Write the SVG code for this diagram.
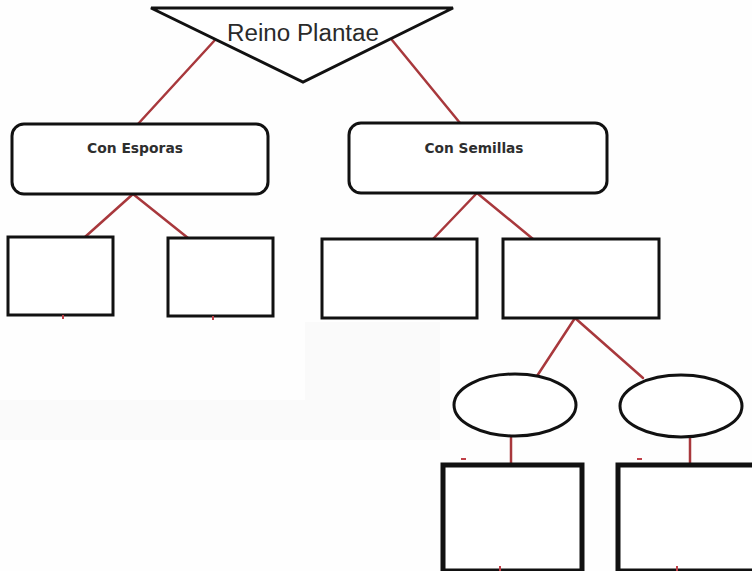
<svg xmlns="http://www.w3.org/2000/svg" width="752" height="571" viewBox="0 0 752 571">
<style>
.shape{fill:#ffffff;stroke:#111111;stroke-width:3}
.thick{fill:#ffffff;stroke:#111111;stroke-width:5}
.conn line{stroke:#a8383c;stroke-width:2.5;stroke-linecap:round}
.tick{stroke:#c04048;stroke-width:2}
.title{font-family:"Liberation Sans",Arial,sans-serif;font-size:23px;fill:#2a2a2a}
.lbl{font-family:"DejaVu Sans",Verdana,sans-serif;font-weight:bold;font-size:14px;fill:#2e2e2e}
</style>
<rect x="0" y="0" width="752" height="571" fill="#fefefe"/>
<path d="M305 322 H440 V440 H0 V400 H305 Z" fill="#fafafa"/>
<g class="conn" id="connectors">
<line x1="215" y1="40" x2="138" y2="124"/>
<line x1="392" y1="40" x2="460" y2="123"/>
<line x1="133" y1="194" x2="85" y2="237"/>
<line x1="133" y1="194" x2="188" y2="238"/>
<line x1="477" y1="193" x2="433" y2="239"/>
<line x1="477" y1="193" x2="533" y2="239"/>
<line x1="575" y1="318" x2="537" y2="376"/>
<line x1="575" y1="318" x2="643" y2="378"/>
<line x1="511" y1="436" x2="511" y2="464"/>
<line x1="690" y1="436" x2="690" y2="464"/>
</g>
<g id="reino-plantae">
<polygon class="shape" points="151,8 453,8 303,82"/>
<text class="title" x="303" y="41" text-anchor="middle" textLength="152" lengthAdjust="spacingAndGlyphs">Reino Plantae</text>
</g>
<g id="con-esporas">
<rect class="shape" x="12" y="124" width="256" height="70" rx="12"/>
<text class="lbl" x="135" y="153" text-anchor="middle" textLength="96" lengthAdjust="spacingAndGlyphs">Con Esporas</text>
</g>
<g id="con-semillas">
<rect class="shape" x="349" y="123" width="258" height="70" rx="12"/>
<text class="lbl" x="474" y="153" text-anchor="middle" textLength="99" lengthAdjust="spacingAndGlyphs">Con Semillas</text>
</g>
<g id="box-a"><rect class="shape" x="8" y="237" width="105" height="78"/></g>
<g id="box-b"><rect class="shape" x="168" y="238" width="105" height="78"/></g>
<g id="box-c"><rect class="shape" x="322" y="239" width="155" height="79"/></g>
<g id="box-d"><rect class="shape" x="503" y="239" width="156" height="79"/></g>
<g id="ellipse-1"><ellipse class="shape" cx="515" cy="405" rx="61" ry="31"/></g>
<g id="ellipse-2"><ellipse class="shape" cx="681" cy="406" rx="61" ry="31"/></g>
<g id="box-e"><rect class="thick" x="443" y="465" width="139" height="106"/></g>
<g id="box-f"><rect class="thick" x="618" y="465" width="140" height="106"/></g>
<g id="marks">
<line class="tick" x1="63" y1="315" x2="63" y2="319"/>
<line class="tick" x1="213" y1="316" x2="213" y2="320"/>
<line class="tick" x1="461" y1="459" x2="466" y2="459"/>
<line class="tick" x1="637" y1="459" x2="642" y2="459"/>
<line class="tick" x1="500" y1="566" x2="500" y2="571"/>
<line class="tick" x1="677" y1="566" x2="677" y2="571"/>
</g>
</svg>
